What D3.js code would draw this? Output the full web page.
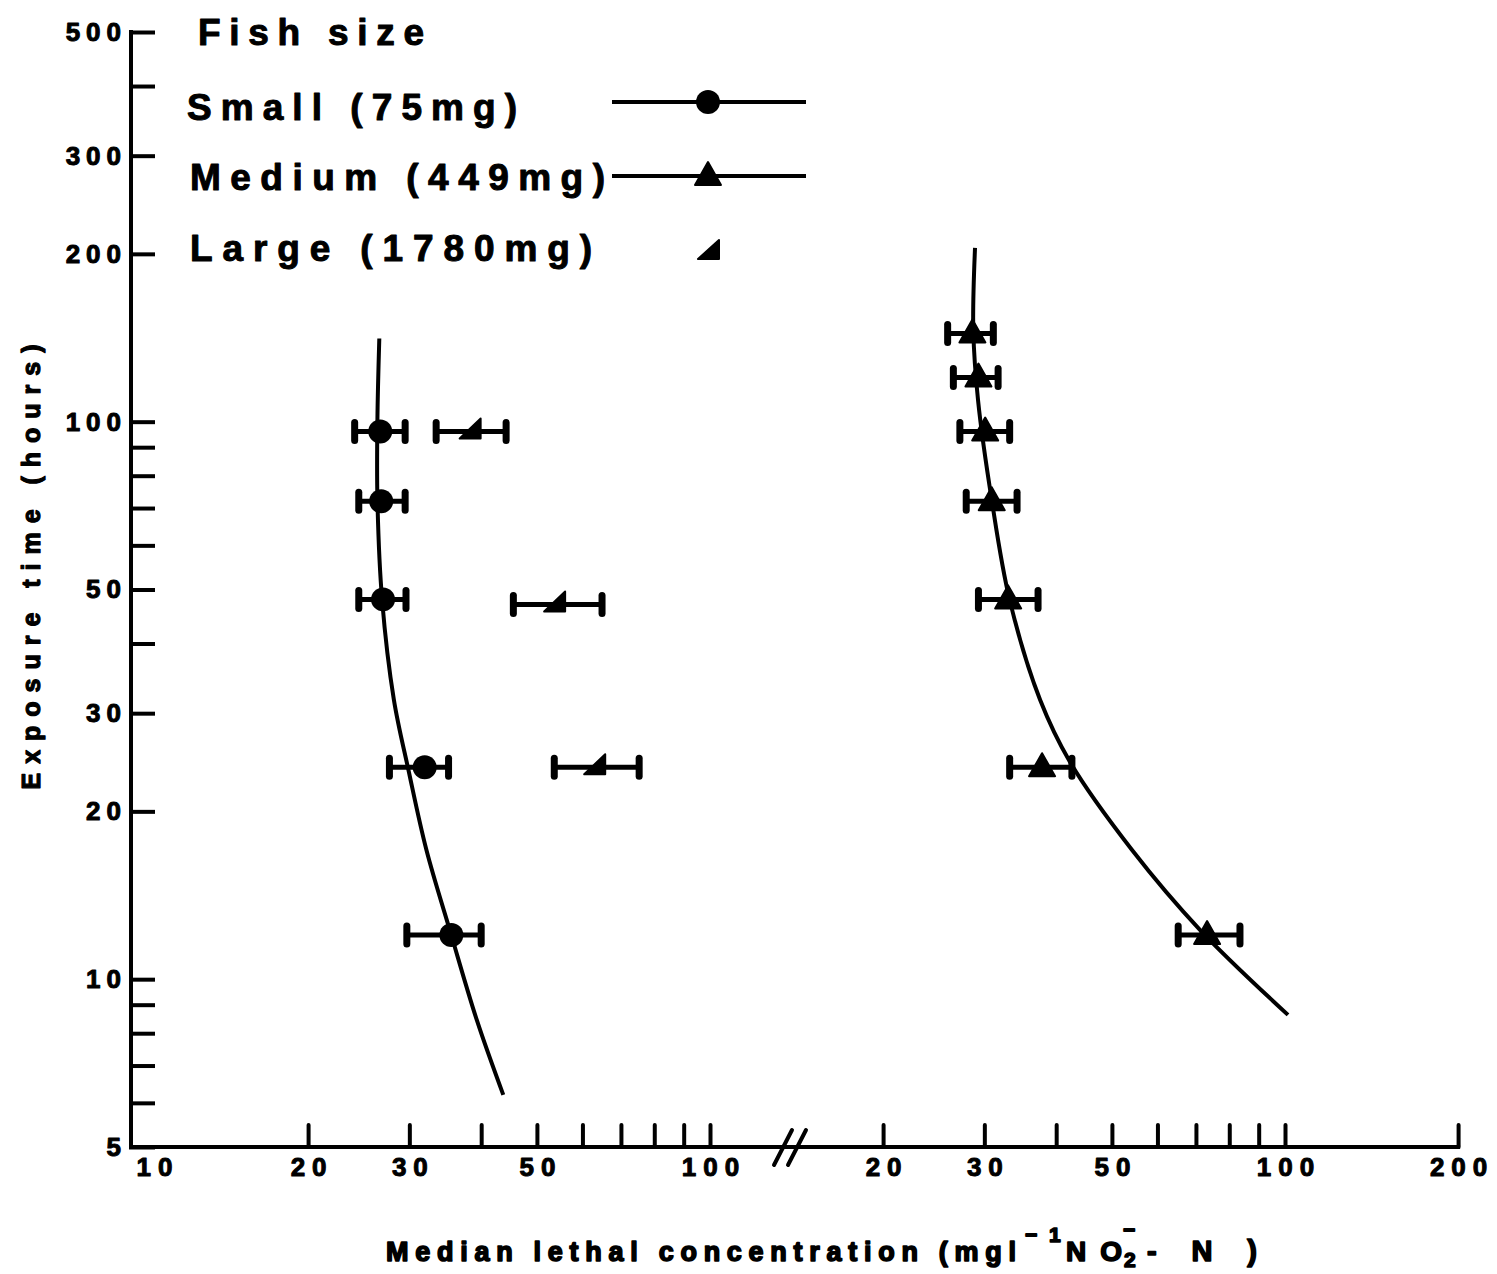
<!DOCTYPE html>
<html>
<head>
<meta charset="utf-8">
<script src="https://cdn.jsdelivr.net/npm/d3@7"></script>
<style>
  body { margin: 0; background: #fff; }
  svg { display: block; background: #fff; }
  text { font-family: "Liberation Sans", Arial, Helvetica, sans-serif; font-weight: bold; fill: #000; }
</style>
</head>
<body>
<svg id="chart" width="1497" height="1274"></svg>
<script>
// ---- Data: exposure time (h) vs. median lethal concentration (mg/l NO2-N) ----
const smallHours = [96, 72, 48, 24, 12];
const smallLC50  = [26.7, 26.8, 27.0, 31.9, 35.5];
const smallLow   = [24.1, 24.5, 24.5, 27.7, 29.7];
const smallHigh  = [29.5, 29.5, 29.6, 35.1, 40.0];
const smallCurveLC    = [26.6, 26.4, 26.4, 26.9, 28.2, 29.9, 32.1, 35.4, 39.3, 43.7];
const smallCurveHours = [141, 101, 72.4, 47.9, 31.7, 23.7, 17.1, 12.1, 8.45, 6.2];

const mediumHours = [144, 120, 96, 72, 48, 24, 12];
const mediumLC50  = [28.6, 29.3, 30.1, 30.9, 33.0, 37.8, 73.2];
const mediumLow   = [25.9, 26.5, 27.2, 27.9, 29.3, 33.2, 65.2];
const mediumHigh  = [31.1, 31.7, 33.2, 34.2, 37.2, 42.6, 83.5];
const mediumCurveLC    = [28.9, 28.7, 29.25, 30.9, 33.2, 37.5, 42.3, 54.2, 71.2, 101.2];
const mediumCurveHours = [205, 146, 109.4, 72.4, 47.9, 31.7, 24.5, 17.05, 12.25, 8.63];

const largeHours = [96, 47, 24];
const largeLC50  = [38.5, 54.0, 63.4];
const largeLow   = [33.4, 45.5, 53.6];
const largeHigh  = [44.2, 64.9, 75.3];

// ---- Axis ticks ----
const yTickValues = [500, 400, 300, 200, 100, 90, 80, 70, 60, 50, 40, 30, 20, 10, 9, 8, 7, 6, 5];
const yTickLabels = [500, 300, 200, 100, 50, 30, 20, 10, 5];
const xLeftTicks  = [10, 20, 30, 40, 50, 60, 70, 80, 90, 100];
const xLeftLabels = [10, 20, 30, 50, 100];
const xRightTicks  = [20, 30, 40, 50, 60, 70, 80, 90, 100, 200];
const xRightLabels = [20, 30, 50, 100, 200];

const legendTitle = "Fish size";
const legendLabels = ["Small (75mg)", "Medium (449mg)", "Large (1780mg)"];
const yTitle = "Exposure time (hours)";

const svg = d3.select("#chart");
const INK = "#000";

// ---- Scales ----
const y = d3.scaleLog().domain([5, 500]).range([1147, 32]);
const xLeft = d3.scaleLog().domain([10, 100]).range([135, 710]);
const xRight = d3.scaleLog().domain([10, 200]).range([710, 710 + 575 * Math.log10(20)]);
const axisY = 1147, axisX = 131;

// overall width of a letter-spaced numeric label
function spacedLen(str, size, gap) {
  return str.length * 0.556 * size + (str.length - 1) * gap;
}
// heavy look for typeset labels
function heavy(sel, w) {
  return sel.attr("stroke", INK).attr("stroke-width", w).attr("stroke-linejoin", "round");
}

// ---- Y axis ----
const gy = svg.append("g").attr("transform", `translate(${axisX},0)`)
  .call(d3.axisLeft(y).tickValues(yTickValues).tickSize(-22).tickPadding(10)
    .tickFormat(d => yTickLabels.includes(d) ? String(d) : ""));
gy.select(".domain").remove();
gy.selectAll(".tick line").attr("stroke", INK).attr("stroke-width", 4).attr("stroke-linecap", "square");
gy.selectAll(".tick text")
  .attr("font-size", 26).attr("font-family", null).attr("fill", INK)
  .each(function (d) {
    const s = yTickLabels.includes(d) ? String(d) : "";
    if (s) heavy(d3.select(this).attr("textLength", spacedLen(s, 26, 6)).attr("lengthAdjust", "spacing"), 1);
  });
svg.append("line").attr("x1", axisX).attr("x2", axisX).attr("y1", y(500)).attr("y2", axisY)
  .attr("stroke", INK).attr("stroke-width", 4).attr("stroke-linecap", "square");

// ---- X axis (broken scale) ----
function styleX(g, labels) {
  g.select(".domain").remove();
  g.selectAll(".tick line").attr("stroke", INK).attr("stroke-width", 4).attr("stroke-linecap", "round");
  g.selectAll(".tick text")
    .attr("font-size", 26).attr("font-family", null).attr("fill", INK)
    .each(function (d) {
      const s = labels.includes(d) ? String(d) : "";
      if (s) heavy(d3.select(this).attr("textLength", spacedLen(s, 26, 7)).attr("lengthAdjust", "spacing"), 1);
    });
}
const gxL = svg.append("g").attr("transform", `translate(0,${axisY})`)
  .call(d3.axisBottom(xLeft).tickValues(xLeftTicks).tickSize(-22).tickPadding(11)
    .tickFormat(d => xLeftLabels.includes(d) ? String(d) : ""));
styleX(gxL, xLeftLabels);
gxL.selectAll(".tick").filter(d => d === 10).select("line").remove();
gxL.selectAll(".tick").filter(d => d === 10).select("text").attr("dx", 19);

const gxR = svg.append("g").attr("transform", `translate(0,${axisY})`)
  .call(d3.axisBottom(xRight).tickValues(xRightTicks).tickSize(-22).tickPadding(11)
    .tickFormat(d => xRightLabels.includes(d) ? String(d) : ""));
styleX(gxR, xRightLabels);

svg.append("line").attr("x1", axisX).attr("x2", xRight(200)).attr("y1", axisY).attr("y2", axisY)
  .attr("stroke", INK).attr("stroke-width", 4).attr("stroke-linecap", "square");

// break marks
const brk = svg.append("g").attr("transform", `translate(790,${axisY})`);
[-7, 7].forEach(dx => {
  brk.append("line").attr("x1", dx - 9).attr("y1", 18).attr("x2", dx + 9).attr("y2", -17)
    .attr("stroke", INK).attr("stroke-width", 4).attr("stroke-linecap", "round");
});

// ---- Axis titles ----
heavy(svg.append("text")
  .attr("transform", "translate(40,567) rotate(-90)")
  .attr("text-anchor", "middle").attr("font-size", 25)
  .attr("textLength", 445).attr("lengthAdjust", "spacing")
  .text(yTitle), 1.2);

const xt = svg.append("g");
function xtPart(str, x, yb, size, len, ls) {
  const t = xt.append("text").attr("x", x).attr("y", yb).attr("font-size", size).text(str);
  if (len) t.attr("textLength", len).attr("lengthAdjust", "spacing");
  if (ls) t.attr("letter-spacing", ls);
  return heavy(t, 1.6);
}
xtPart("Median lethal concentration (mgl", 386, 1261, 27, 630);
xtPart("\u2212", 1025, 1242, 21);
xtPart("1", 1049, 1242, 21);
xtPart("NO", 1066, 1261, 28, 56);
xtPart("2", 1124, 1267, 21);
xtPart("\u2212", 1123, 1237, 21);
xtPart("-N)", 1147, 1261, 29, 110);

// ---- Fitted curves ----
const lineL = d3.line().x(d => xLeft(d[0])).y(d => y(d[1])).curve(d3.curveCatmullRom.alpha(0.5));
const lineR = d3.line().x(d => xRight(d[0])).y(d => y(d[1])).curve(d3.curveCatmullRom.alpha(0.5));
svg.append("path").datum(d3.zip(smallCurveLC, smallCurveHours))
  .attr("d", lineL).attr("fill", "none").attr("stroke", INK).attr("stroke-width", 4);
svg.append("path").datum(d3.zip(mediumCurveLC, mediumCurveHours))
  .attr("d", lineR).attr("fill", "none").attr("stroke", INK).attr("stroke-width", 4);

// ---- Error bars ----
function errorBars(xs, hours, low, high) {
  const g = svg.append("g");
  const rows = hours.map((h, i) => ({ h, lo: low[i], hi: high[i] }));
  g.selectAll("line.bar").data(rows).join("line").attr("class", "bar")
    .attr("x1", d => xs(d.lo)).attr("x2", d => xs(d.hi))
    .attr("y1", d => y(d.h)).attr("y2", d => y(d.h))
    .attr("stroke", INK).attr("stroke-width", 5);
  const caps = rows.flatMap(d => [{ v: d.lo, h: d.h }, { v: d.hi, h: d.h }]);
  g.selectAll("line.cap").data(caps).join("line").attr("class", "cap")
    .attr("x1", d => xs(d.v)).attr("x2", d => xs(d.v))
    .attr("y1", d => y(d.h) - 9).attr("y2", d => y(d.h) + 9)
    .attr("stroke", INK).attr("stroke-width", 7).attr("stroke-linecap", "round");
}
errorBars(xLeft, smallHours, smallLow, smallHigh);
errorBars(xLeft, largeHours, largeLow, largeHigh);
errorBars(xRight, mediumHours, mediumLow, mediumHigh);

// ---- Markers ----
const triPath = "M0,-14L13,9L-13,9Z";
const wedgePath = "M-12,7L9,7L9,-13Z";

svg.append("g").selectAll("circle").data(d3.zip(smallLC50, smallHours)).join("circle")
  .attr("cx", d => xLeft(d[0])).attr("cy", d => y(d[1])).attr("r", 12).attr("fill", INK);

svg.append("g").selectAll("path").data(d3.zip(mediumLC50, mediumHours)).join("path")
  .attr("transform", d => `translate(${xRight(d[0])},${y(d[1])})`)
  .attr("d", triPath).attr("fill", INK).attr("stroke", INK).attr("stroke-width", 2).attr("stroke-linejoin", "round");

svg.append("g").selectAll("path").data(d3.zip(largeLC50, largeHours)).join("path")
  .attr("transform", d => `translate(${xLeft(d[0])},${y(d[1])})`)
  .attr("d", wedgePath).attr("fill", INK).attr("stroke", INK).attr("stroke-width", 2).attr("stroke-linejoin", "round");

// ---- Legend ----
const lg = svg.append("g");
heavy(lg.append("text").attr("x", 198).attr("y", 45).attr("font-size", 37)
  .attr("textLength", 226).attr("lengthAdjust", "spacing").text(legendTitle), 1);
const legendRows = [
  { y: 120, x: 187, len: 330, lineY: 102, sym: "circle" },
  { y: 190, x: 190, len: 415, lineY: 176, sym: "tri" },
  { y: 261, x: 190, len: 402, lineY: 250, sym: "wedge" }
];
legendRows.forEach((r, i) => {
  heavy(lg.append("text").attr("x", r.x).attr("y", r.y).attr("font-size", 37)
    .attr("textLength", r.len).attr("lengthAdjust", "spacing").text(legendLabels[i]), 1);
  if (r.sym !== "wedge") {
    lg.append("line").attr("x1", 612).attr("x2", 806).attr("y1", r.lineY).attr("y2", r.lineY)
      .attr("stroke", INK).attr("stroke-width", 4);
  }
  if (r.sym === "circle") {
    lg.append("circle").attr("cx", 708).attr("cy", r.lineY).attr("r", 12).attr("fill", INK);
  } else if (r.sym === "tri") {
    lg.append("path").attr("transform", `translate(708,${r.lineY})`).attr("d", triPath)
      .attr("fill", INK).attr("stroke", INK).attr("stroke-width", 2).attr("stroke-linejoin", "round");
  } else {
    lg.append("path").attr("transform", `translate(709,${r.lineY})`).attr("d", "M-11,9L10,9L10,-10Z")
      .attr("fill", INK).attr("stroke", INK).attr("stroke-width", 2).attr("stroke-linejoin", "round");
  }
});
</script>
</body>
</html>
